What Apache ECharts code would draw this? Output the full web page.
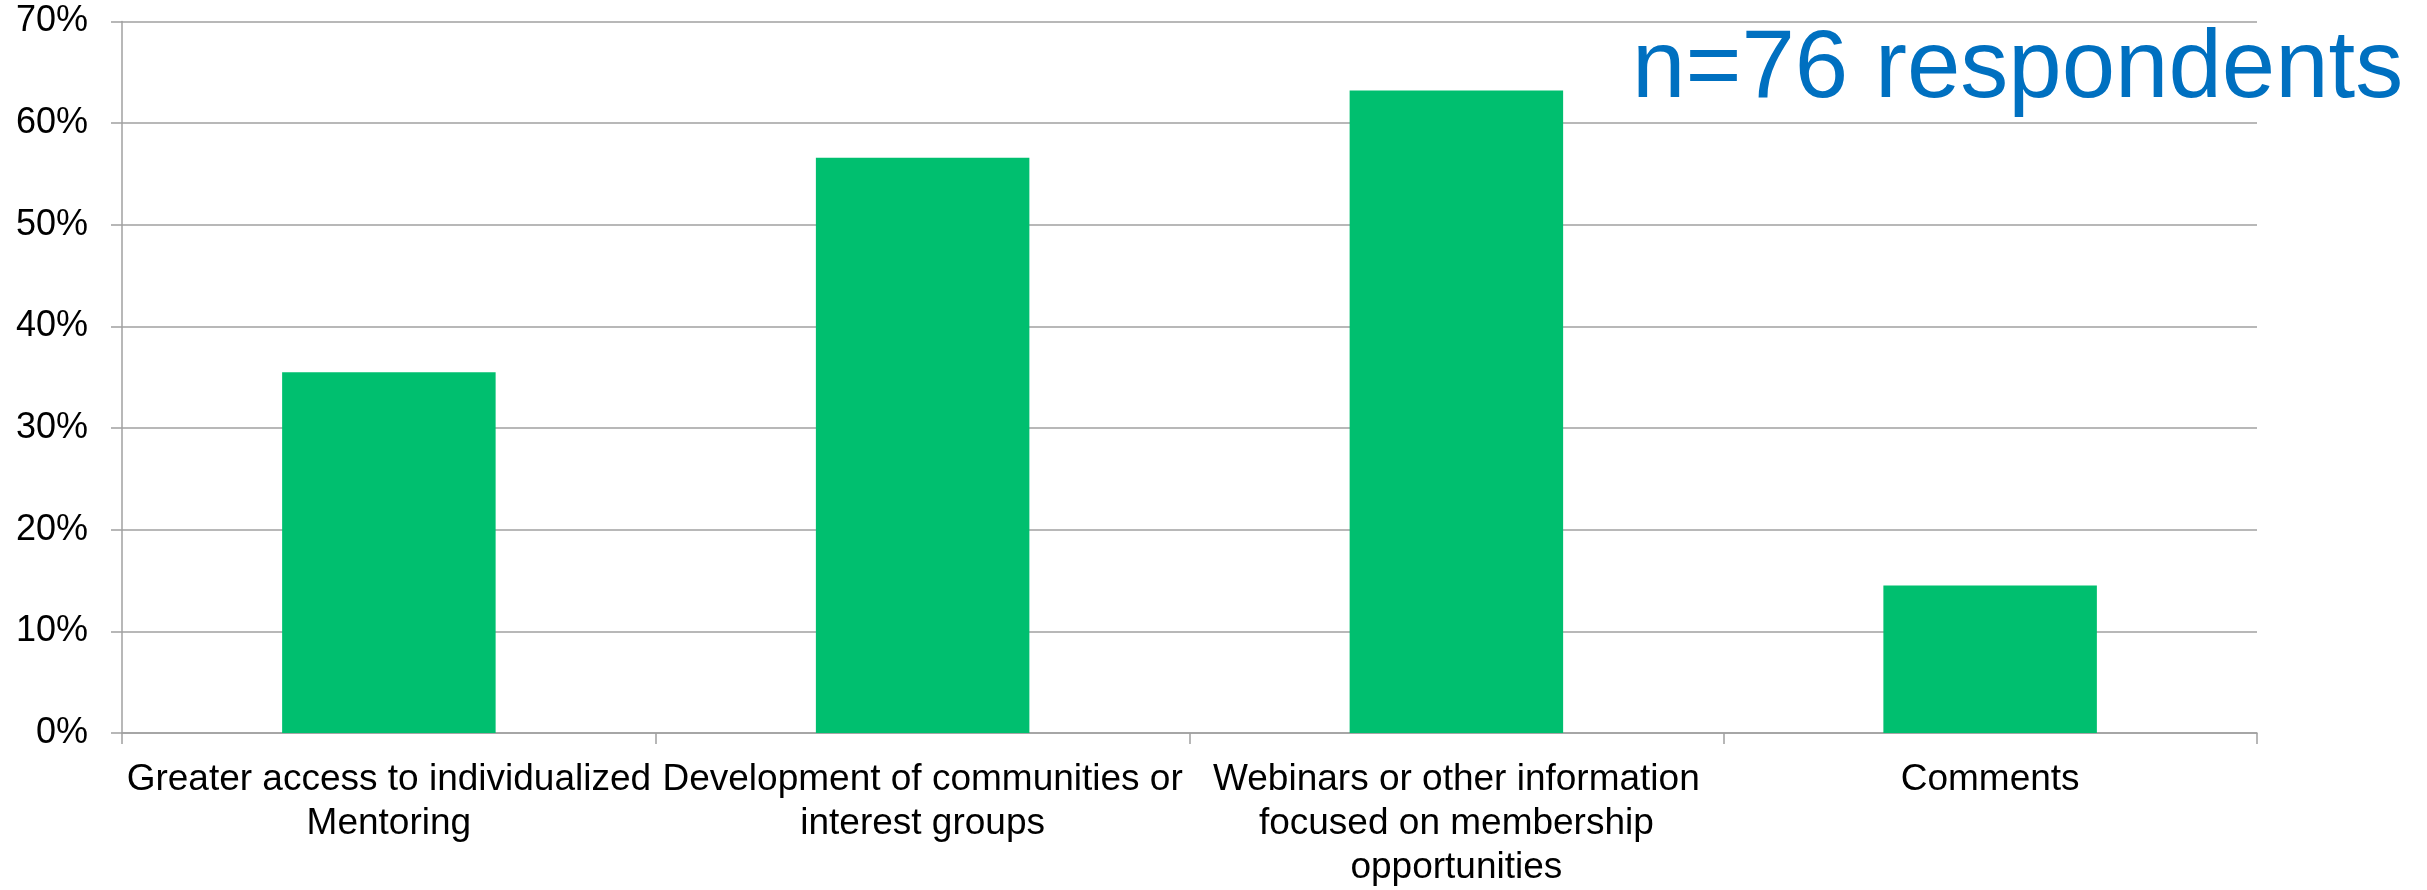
<!DOCTYPE html>
<html>
<head>
<meta charset="utf-8">
<title>Survey responses</title>
<script src="https://cdn.jsdelivr.net/npm/echarts@6/dist/echarts.min.js"></script>
<style>
  html, body { margin: 0; padding: 0; background: #ffffff; }
  #chart { width: 2427px; height: 890px; }
</style>
</head>
<body>
<div id="chart"></div>
<script>
// Answer options (line breaks as wrapped under each bar)
const categories = [
  'Greater access to individualized\nMentoring',
  'Development of communities or\ninterest groups',
  'Webinars or other information\nfocused on membership\nopportunities',
  'Comments'
];
// Share of respondents choosing each option, in percent
const percentValues = [35.5, 56.6, 63.2, 14.5];
// Respondent count shown in the corner
const respondentNote = 'n=76 respondents';

const FONT = '"Liberation Sans", Arial, Helvetica, sans-serif';
const LINE = '#a0a0a0';

const chart = echarts.init(document.getElementById('chart'), null, { renderer: 'canvas' });

chart.setOption({
  backgroundColor: '#ffffff',
  animation: false,
  title: {
    text: respondentNote,
    left: 1632,
    top: 23,
    padding: 0,
    textStyle: {
      color: '#0070c0',
      fontFamily: FONT,
      fontSize: 96,
      fontWeight: 'normal',
      lineHeight: 96
    }
  },
  grid: {
    left: 122,
    right: 170,
    top: 21.5,
    bottom: 150.5,
    containLabel: false
  },
  xAxis: {
    type: 'category',
    data: categories,
    boundaryGap: true,
    axisLine: { show: true, lineStyle: { color: LINE, width: 1.5 } },
    axisTick: { show: true, length: 11, alignWithLabel: false, lineStyle: { color: LINE, width: 1.5 } },
    axisLabel: {
      interval: 0,
      margin: 25,
      color: '#000000',
      fontFamily: FONT,
      fontSize: 37,
      lineHeight: 44,
      align: 'center'
    },
    splitLine: { show: false }
  },
  yAxis: {
    type: 'value',
    min: 0,
    max: 70,
    interval: 10,
    axisLine: { show: true, lineStyle: { color: LINE, width: 1.5 } },
    axisTick: { show: true, length: 11, lineStyle: { color: LINE, width: 1.5 } },
    axisLabel: {
      margin: 34,
      color: '#000000',
      fontFamily: FONT,
      fontSize: 36,
      formatter: '{value}%'
    },
    splitLine: { show: true, lineStyle: { color: LINE, width: 1.5 } }
  },
  series: [{
    type: 'bar',
    data: percentValues,
    barWidth: '40%',
    itemStyle: { color: '#00bf6f' },
    label: { show: false }
  }]
});
</script>
</body>
</html>
